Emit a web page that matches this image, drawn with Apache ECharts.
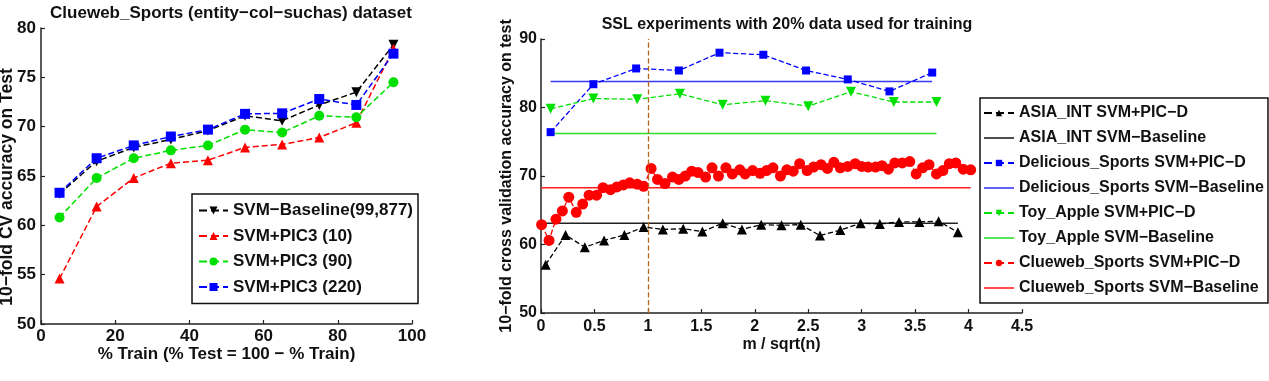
<!DOCTYPE html>
<html>
<head>
<meta charset="utf-8">
<script src="https://cdn.jsdelivr.net/npm/echarts@6/dist/echarts.min.js"></script>
<style>
html, body { margin: 0; padding: 0; background: #fff; }
#chart { width: 1269px; height: 381px; }
</style>
</head>
<body>
<div id="chart"></div>
<script>
// left chart: CV accuracy vs % train
var trainPct = [5, 15, 25, 35, 45, 55, 65, 75, 85, 95];
var svmBaseline = [63.2, 66.5, 67.9, 68.7, 69.6, 71.1, 70.6, 72.2, 73.5, 78.3];
var pic10 = [54.6, 61.9, 64.8, 66.3, 66.6, 67.9, 68.2, 68.9, 70.4, 77.9];
var pic90 = [60.8, 64.8, 66.8, 67.6, 68.1, 69.7, 69.4, 71.1, 70.95, 74.5];
var pic220 = [63.3, 66.8, 68.1, 69.0, 69.7, 71.3, 71.35, 72.8, 72.2, 77.4];

// right chart: SSL experiments
var asiaX = [0.044, 0.23, 0.41, 0.59, 0.78, 0.96, 1.14, 1.33, 1.51, 1.70, 1.88, 2.06, 2.25, 2.43, 2.61, 2.80, 2.99, 3.17, 3.35, 3.54, 3.72, 3.90];
var asiaY = [57.05, 61.4, 59.6, 60.6, 61.4, 62.55, 62.2, 62.3, 61.9, 63.1, 62.2, 62.9, 62.8, 62.9, 61.3, 62.1, 63.1, 63.0, 63.3, 63.3, 63.4, 61.8];
var deliX = [0.09, 0.49, 0.89, 1.29, 1.67, 2.08, 2.48, 2.87, 3.26, 3.66];
var deliY = [76.4, 83.4, 85.7, 85.4, 88.0, 87.7, 85.4, 84.1, 82.35, 85.1];
var toyX = [0.09, 0.49, 0.9, 1.3, 1.7, 2.1, 2.5, 2.9, 3.3, 3.7];
var toyY = [79.8, 81.3, 81.2, 82.0, 80.4, 81.0, 80.2, 82.3, 80.8, 80.8];
var clueX = [0.006, 0.075, 0.14, 0.2, 0.26, 0.33, 0.39, 0.45, 0.52, 0.58, 0.65, 0.71, 0.77, 0.83, 0.90, 0.96,
    1.03, 1.09, 1.16, 1.23, 1.29, 1.35, 1.41, 1.47, 1.54, 1.60, 1.66, 1.73, 1.79, 1.86, 1.91, 1.98,
    2.05, 2.11, 2.17, 2.24, 2.30, 2.36, 2.42, 2.49, 2.55, 2.62, 2.68, 2.74, 2.80, 2.87, 2.94, 3.0,
    3.06, 3.13, 3.19, 3.25, 3.31, 3.38, 3.45, 3.51, 3.57, 3.63, 3.70, 3.76, 3.82, 3.88, 3.95, 4.02];
var clueY = [62.9, 60.6, 63.7, 64.9, 66.9, 64.7, 65.9, 67.2, 67.2, 68.3, 68.0, 68.4, 68.7, 69.0, 68.8, 68.5,
    71.1, 69.5, 68.9, 69.85, 69.5, 70.0, 70.7, 70.5, 69.85, 71.2, 70.0, 71.2, 70.3, 70.9, 70.3, 70.8,
    70.4, 70.8, 71.2, 70.0, 70.9, 70.7, 71.8, 70.8, 71.3, 71.65, 71.1, 72.0, 71.2, 71.4, 71.8, 71.4,
    71.3, 71.3, 71.5, 71.0, 71.9, 71.9, 72.1, 70.3, 71.2, 71.65, 70.3, 70.8, 71.8, 71.9, 71.0, 70.9];
// baselines: level, start x, end x
var baseLevel = [63.1, 83.8, 76.2, 68.3];
var baseStart = [0, 0.09, 0.09, 0];
var baseEnd = [3.9, 3.66, 3.7, 4.02];
var splitX = 1;

var FONT = "'Liberation Sans', Arial, sans-serif";
var LINE_ICON = 'path://M0,0L30,0L30,1.6L0,1.6Z';

function zip(xs, ys) {
    return xs.map(function (x, i) { return [x, ys[i]]; });
}

function axisCommon(extra, labelSize, nameSize, margin) {
    var a = {
        axisLine: { show: true, onZero: false, lineStyle: { color: '#222', width: 1.5 } },
        axisTick: { show: true, inside: true, length: 4, lineStyle: { color: '#222', width: 1.2 } },
        axisLabel: { color: '#111', fontWeight: 'bold', fontFamily: FONT, fontSize: labelSize, margin: margin },
        splitLine: { show: false },
        nameTextStyle: { color: '#111', fontWeight: 'bold', fontFamily: FONT, fontSize: nameSize },
        nameLocation: 'middle',
        nameMoveOverlap: false
    };
    for (var k in extra) a[k] = extra[k];
    return a;
}

function leftSeries(name, data, color, symbol, rotate) {
    return {
        name: name, type: 'line', xAxisIndex: 0, yAxisIndex: 0,
        data: zip(trainPct, data),
        symbol: symbol, symbolSize: 10, symbolRotate: rotate || 0,
        itemStyle: { color: color },
        lineStyle: { color: color, type: 'dashed', width: 1.5 },
        animation: false
    };
}

function rightSeries(name, xs, ys, color, symbol, size, rotate) {
    return {
        name: name, type: 'line', xAxisIndex: 1, yAxisIndex: 1,
        data: zip(xs, ys),
        symbol: symbol, symbolSize: size, symbolRotate: rotate || 0,
        itemStyle: { color: color },
        lineStyle: { color: color, type: 'dashed', width: 1.3 },
        animation: false
    };
}

function baseSeries(name, i, color) {
    return {
        name: name, type: 'line', xAxisIndex: 1, yAxisIndex: 1,
        data: [[baseStart[i], baseLevel[i]], [baseEnd[i], baseLevel[i]]],
        symbol: 'none', showSymbol: false,
        itemStyle: { color: color },
        lineStyle: { color: color, type: 'solid', width: 1.5 },
        animation: false
    };
}

var chart = echarts.init(document.getElementById('chart'));

var clueSeries = rightSeries('Clueweb_Sports SVM+PIC\u2212D', clueX, clueY, '#ff0000', 'circle', 11);
clueSeries.markLine = {
    silent: true, symbol: 'none', label: { show: false },
    lineStyle: { color: '#b8651b', type: 'dashed', width: 1.3 },
    data: [{ xAxis: splitX }],
    animation: false
};

var leftYAxis = axisCommon({ type: 'value', gridIndex: 0, min: 50, max: 80, interval: 5,
    name: '10\u2212fold CV accuracy on Test', nameGap: 25 }, 17, 17.5, 5);
// the reference label sits a bit below the axis middle
leftYAxis.nameTextStyle.padding = [0, 22, 0, 0];

chart.setOption({
    backgroundColor: '#fff',
    animation: false,
    title: [
        { text: 'Clueweb_Sports (entity\u2212col\u2212suchas) dataset', left: 226, top: 0, textAlign: 'center',
          textStyle: { fontFamily: FONT, fontWeight: 'bold', fontSize: 17, color: '#111' } },
        { text: 'SSL experiments with 20% data used for training', left: 782, top: 12, textAlign: 'center',
          textStyle: { fontFamily: FONT, fontWeight: 'bold', fontSize: 16, color: '#111' } }
    ],
    legend: [
        {
            orient: 'vertical', left: 192, top: 194,
            padding: [8, 5, 8, 6], itemGap: 8.5, itemWidth: 29, itemHeight: 10,
            borderColor: '#111', borderWidth: 1.5, backgroundColor: '#fff',
            textStyle: { fontFamily: FONT, fontWeight: 'bold', fontSize: 17, color: '#111' },
            data: ['SVM\u2212Baseline(99,877)', 'SVM+PIC3 (10)', 'SVM+PIC3 (90)', 'SVM+PIC3 (220)']
        },
        {
            orient: 'vertical', left: 980, top: 98,
            padding: [7, 4, 7, 3], itemGap: 9, itemWidth: 30, itemHeight: 8,
            borderColor: '#111', borderWidth: 1.5, backgroundColor: '#fff',
            textStyle: { fontFamily: FONT, fontWeight: 'bold', fontSize: 16, color: '#111' },
            data: [
                'ASIA_INT SVM+PIC\u2212D',
                { name: 'ASIA_INT SVM\u2212Baseline', icon: LINE_ICON },
                'Delicious_Sports SVM+PIC\u2212D',
                { name: 'Delicious_Sports SVM\u2212Baseline', icon: LINE_ICON },
                'Toy_Apple SVM+PIC\u2212D',
                { name: 'Toy_Apple SVM\u2212Baseline', icon: LINE_ICON },
                'Clueweb_Sports SVM+PIC\u2212D',
                { name: 'Clueweb_Sports SVM\u2212Baseline', icon: LINE_ICON }
            ]
        }
    ],
    grid: [
        { left: 41, top: 28, width: 371, height: 296, outerBoundsMode: 'none' },
        { left: 541, top: 39, width: 481, height: 274, outerBoundsMode: 'none' }
    ],
    xAxis: [
        axisCommon({ type: 'value', gridIndex: 0, min: 0, max: 100, interval: 20,
            name: '% Train (% Test = 100 \u2212 % Train)', nameGap: 22 }, 17, 17, 4),
        axisCommon({ type: 'value', gridIndex: 1, min: 0, max: 4.5, interval: 0.5,
            name: 'm / sqrt(n)', nameGap: 24 }, 16, 16, 6)
    ],
    yAxis: [
        leftYAxis,
        axisCommon({ type: 'value', gridIndex: 1, min: 50, max: 90, interval: 10,
            name: '10\u2212fold cross validation accuracy on test', nameGap: 26 }, 16, 16, 4)
    ],
    series: [
        leftSeries('SVM\u2212Baseline(99,877)', svmBaseline, '#000000', 'triangle', 180),
        leftSeries('SVM+PIC3 (10)', pic10, '#ff0000', 'triangle'),
        leftSeries('SVM+PIC3 (90)', pic90, '#00e000', 'circle'),
        leftSeries('SVM+PIC3 (220)', pic220, '#0000ff', 'rect'),

        baseSeries('ASIA_INT SVM\u2212Baseline', 0, '#222222'),
        baseSeries('Delicious_Sports SVM\u2212Baseline', 1, '#3b3bf5'),
        baseSeries('Toy_Apple SVM\u2212Baseline', 2, '#2ee02e'),
        baseSeries('Clueweb_Sports SVM\u2212Baseline', 3, '#ff1f1f'),

        rightSeries('ASIA_INT SVM+PIC\u2212D', asiaX, asiaY, '#000000', 'triangle', 10),
        rightSeries('Delicious_Sports SVM+PIC\u2212D', deliX, deliY, '#0000ff', 'rect', 8),
        rightSeries('Toy_Apple SVM+PIC\u2212D', toyX, toyY, '#00e000', 'triangle', 10, 180),
        clueSeries
    ]
});
</script>
</body>
</html>
